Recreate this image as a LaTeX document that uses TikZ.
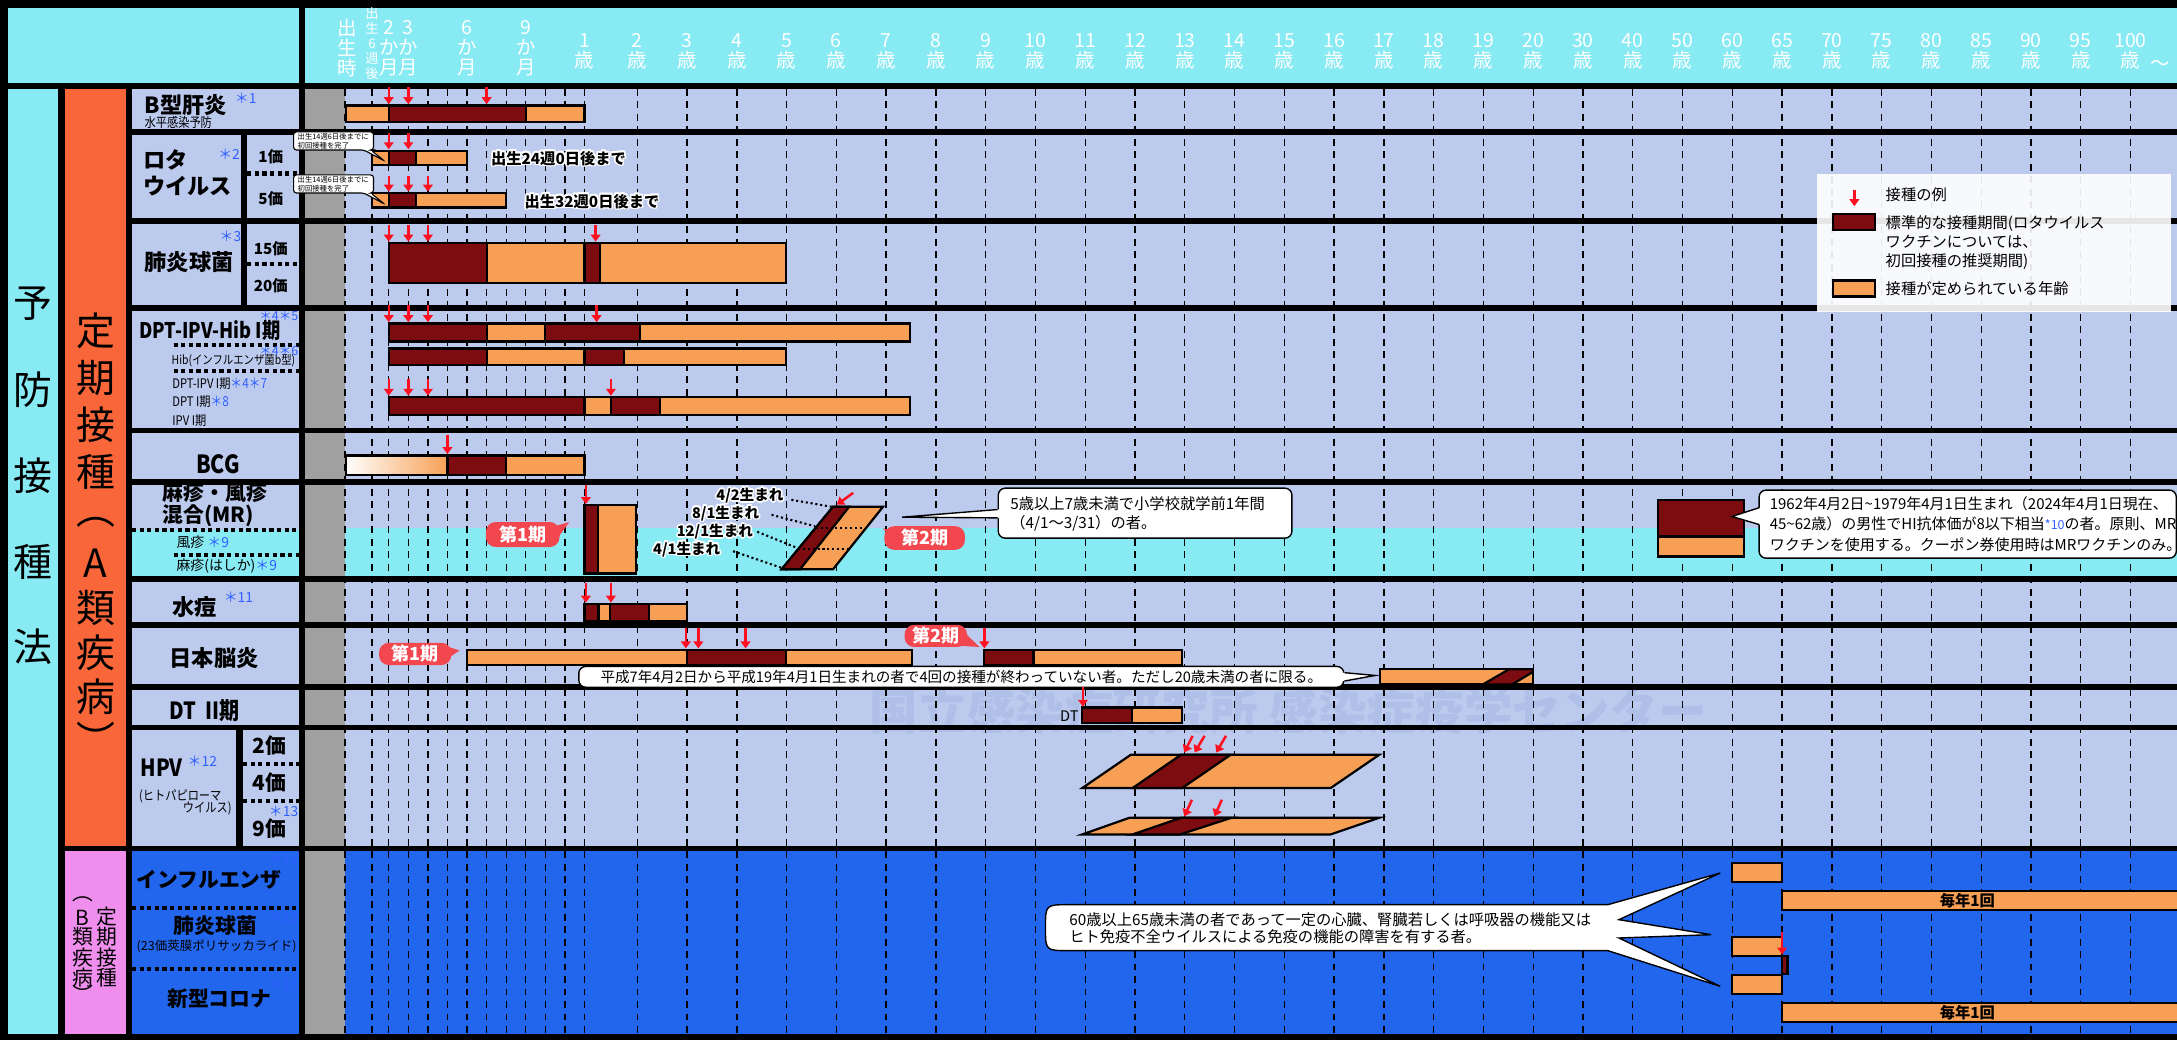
\documentclass[tikz,border=0pt]{standalone}
\usepackage{fontspec}
\setmainfont{Noto Sans CJK JP}
\newfontfamily\schmal{Noto Sans CJK JP}[FakeStretch=0.85]
\usetikzlibrary{arrows.meta,calc,positioning}

\definecolor{hellblau}{HTML}{BCCAEE}
\definecolor{tuerkis}{HTML}{88EAF3}
\definecolor{dunkelrot}{HTML}{7D0C10}
\definecolor{hellorange}{HTML}{F7A055}
\definecolor{grau}{HTML}{A0A0A0}
\definecolor{bblau}{HTML}{2266EE}
\definecolor{rosa}{HTML}{F08EEE}
\definecolor{orangerot}{HTML}{F8663A}
\definecolor{etikettrot}{HTML}{F2474F}
\definecolor{pfeilrot}{HTML}{FF1020}
\definecolor{sternblau}{HTML}{3060FF}
\definecolor{wasserzeichen}{HTML}{AFBFE8}

\tikzset{
  gitter/.style={line width=1pt,dash pattern=on 5pt off 4pt,black},
  punktlinie/.style={line width=3pt,dash pattern=on 3pt off 2.5pt,black},
  balken/.style={draw=black,line width=1.6pt},
  pfeil/.style={pfeilrot,line width=1.8pt,-{Triangle[length=5pt,width=7pt]}},
  kopf/.style={white,align=center,inner sep=0pt,font=\fontsize{14}{14.5}\selectfont},
  vname/.style={inner sep=0pt,font=\bfseries\fontsize{16}{17}\selectfont},
  klein/.style={inner sep=0pt,font=\schmal\fontsize{9.5}{10}\selectfont},
  stern/.style={sternblau,inner sep=0pt,font=\fontsize{10}{10}\selectfont},
  senkrecht/.style={inner sep=0pt,font=\fontsize{28}{28}\selectfont},
  etikett/.style={fill=etikettrot,text=white,rounded corners=7pt,inner sep=0pt,
    font=\bfseries\fontsize{13}{13}\selectfont},
  sprechblase/.style={draw=black,fill=white,line width=1pt,rounded corners=5pt},
  hinweis/.style={inner sep=0pt,align=left,font=\fontsize{11}{13.2}\selectfont},
}

% Text mit weissem Rand
\newcommand\halo[3]{%
  \foreach \dx/\dy in {-1.2/0,1.2/0,0/-1.2,0/1.2,-0.9/-0.9,0.9/-0.9,-0.9/0.9,0.9/0.9}
    {\node[white,#2] at ($(#1)+(\dx,\dy)$) {#3};}
  \node[black,#2] at (#1) {#3};}

\begin{document}
\begin{tikzpicture}[x=1pt,y=-1pt]
\useasboundingbox (0,0) rectangle (1568,749);
%Hintergrund: schwarz, die Felder lassen die Trennlinien frei
\fill[black] (0,0) rectangle (1568,749);
\fill[tuerkis] (6,6) rectangle (215,60);
\fill[tuerkis] (220,6) rectangle (1568,60);
\fill[tuerkis] (6,64) rectangle (42,745);
\fill[orangerot] (47,64) rectangle (91,609);
\fill[rosa] (47,613) rectangle (91,745);
\foreach \oben/\unten in {64/93,97/157,161/220,224/308,312/345,349/415,419/448,452/493,497/522,526/609}{
  \fill[hellblau] (95,\oben) rectangle (215,\unten);
  \fill[grau] (220,\oben) rectangle (248.5,\unten);
  \fill[hellblau] (248.5,\oben) rectangle (1568,\unten);
}
\fill[bblau] (95,613) rectangle (215,745);
\fill[grau] (220,613) rectangle (248.5,745);
\fill[bblau] (248.5,613) rectangle (1568,745);
\fill[tuerkis] (95,381.6) rectangle (215,415);
\fill[tuerkis] (248.5,380) rectangle (1568,415);
\fill[black] (173.5,97) rectangle (178,220);
\fill[black] (170,526) rectangle (175,609);
\node[wasserzeichen,font=\bfseries\fontsize{35}{35}\selectfont] (logo) at (928,512) {国立感染症研究所\ 感染症疫学センター};
\fill[black] (248.5,522) rectangle (1568,526);

%Raster: Monate, dann Jahre
\foreach \x in {248.5,268,280,294.1,308.2,322.3,336.4,350.5,364.6,378.7,392.8,406.9,421}
  \draw[gitter] (\x,64) -- (\x,745);
\foreach \k in {0,...,30}
  \draw[gitter] ({459+35.85*\k},64) -- ++(0,681);
\fill[black] (95,93) rectangle (1568,97);
\fill[black] (95,157) rectangle (1568,161);
\fill[black] (95,220) rectangle (1568,224);
\fill[black] (95,308) rectangle (1568,312);
\fill[black] (95,345) rectangle (1568,349);
\fill[black] (95,415) rectangle (1568,419);
\fill[black] (95,448) rectangle (1568,452);
\fill[black] (95,493) rectangle (1568,497);
\fill[black] (42,609) rectangle (1568,613);

%Kopfzeile
\node[kopf] (geburt) at (250,34.5) {出\\生\\時};
\node[kopf,font=\fontsize{9.5}{10.7}\selectfont] (woche) at (268,31.5) {出\\生\\6\\週\\後};
\foreach \x/\m in {280/2,294.1/3,336.4/6,378.7/9}
  \node[kopf] at (\x,35) {\m\\か\\月};
\node[kopf] (jahr) at (421,37) {1\\歳};
\foreach \t [count=\k from 0] in {2,3,...,20,30,40,50,60,65,70,75,80,85,90,95,100}
  \node[kopf] at ({459+35.85*\k},37) {\t\\歳};
\node[kopf] (tilde) at (1556,47) {〜};

%linke Spalten
\foreach \z/\y in {予/219,防/281,接/343,種/405,法/466}
  \node[senkrecht] at (24,\y) {\z};
\foreach \z/\y in {定/238,期/272,接/306,種/340,︵/376,A/406,類/438,疾/470,病/502,︶/532}
  \node[senkrecht,font=\fontsize{28}{28}\selectfont] at (69,\y) {\z};
\foreach \z/\y in {定/660,期/675,接/690,種/704}
  \node[senkrecht,font=\fontsize{15}{15}\selectfont] at (77,\y) {\z};
\foreach \z/\y in {︵/648,B/661,類/675,疾/690,病/704,︶/716}
  \node[senkrecht,font=\fontsize{15}{15}\selectfont] at (59.5,\y) {\z};

%Impfstoffnamen
\node[vname,anchor=west] (hepb) at (104,76) {B型肝炎};
\node[stern,anchor=west] at (169,71) {＊1};
\node[klein,anchor=west] at (104,88) {水平感染予防};
\node[vname,anchor=west] (rota) at (103,115) {ロタ};
\node[vname,anchor=west] at (103,134) {ウイルス};
\node[stern,anchor=west] at (157,111) {＊2};
\node[vname,font=\bfseries\fontsize{11}{11}\selectfont] at (195,113) {1価};
\node[vname,font=\bfseries\fontsize{11}{11}\selectfont] at (195,143) {5価};
\draw[punktlinie] (178,125) -- (215,125);
\node[vname,anchor=west] (pneumo) at (104,189) {肺炎球菌};
\node[stern,anchor=west] at (158,170) {＊3};
\node[vname,font=\bfseries\fontsize{11}{11}\selectfont] at (195,179) {15価};
\node[vname,font=\bfseries\fontsize{11}{11}\selectfont] at (195,206) {20価};
\draw[punktlinie] (178,190) -- (215,190);
\node[vname,anchor=west,font=\schmal\bfseries\fontsize{15.5}{15.5}\selectfont] (dpt) at (100,238) {DPT-IPV-Hib I期};
\node[stern,anchor=east,font=\fontsize{9}{9}\selectfont] at (215,227.5) {＊4＊5};
\draw[punktlinie] (125,248.5) -- (215,248.5);
\node[klein,anchor=west,font=\schmal\fontsize{8.8}{9}\selectfont] at (123.5,260) {Hib(インフルエンザ菌b型)};
\node[stern,anchor=east,font=\fontsize{9}{9}\selectfont] at (215,253) {＊4＊6};
\draw[punktlinie] (125,267) -- (215,267);
\node[klein,anchor=west] at (124,276) {DPT-IPV I期{\color{sternblau}\fontsize{10}{10}\selectfont＊4＊7}};
\node[klein,anchor=west] at (124,289.5) {DPT I期{\color{sternblau}\fontsize{10}{10}\selectfont＊8}};
\node[klein,anchor=west] at (124,303) {IPV I期};
\node[vname,font=\schmal\bfseries\fontsize{18}{18}\selectfont] (bcg) at (157,334) {BCG};
\node[vname,anchor=west,align=left,font=\bfseries\fontsize{15}{12.5}\selectfont] (mr) at (117,363.5) {麻疹・風疹\\混合(MR)};
\draw[punktlinie] (95,382) -- (215,382);
\node[klein,anchor=west,font=\fontsize{10}{10}\selectfont] at (127,390.5) {風疹 {\color{sternblau}＊9}};
\draw[punktlinie] (125,400) -- (215,400);
\node[klein,anchor=west,font=\fontsize{10}{10}\selectfont] at (127,408) {麻疹(はしか){\color{sternblau}＊9}};
\node[vname,anchor=west] (varizellen) at (124,437) {水痘};
\node[stern,anchor=west] at (161,430) {＊11};
\node[vname,anchor=west] (je) at (122,474) {日本脳炎};
\node[vname,anchor=west,font=\schmal\bfseries\fontsize{17}{17}\selectfont] (dt) at (122,512) {DT\ \ II期};
\node[vname,anchor=west,font=\schmal\bfseries\fontsize{17}{17}\selectfont] (hpv) at (101,553) {HPV};
\node[stern,anchor=west] at (135,548) {＊12};
\node[klein,anchor=west] at (100,573.5) {(ヒトパピローマ};
\node[klein,anchor=east] at (167,582.5) {ウイルス)};
\node[vname,font=\bfseries\fontsize{15}{15}\selectfont] at (194,537) {2価};
\node[vname,font=\bfseries\fontsize{15}{15}\selectfont] at (194,564) {4価};
\node[vname,font=\bfseries\fontsize{15}{15}\selectfont] at (194,597) {9価};
\node[stern,anchor=east] at (215,584) {＊13};
\draw[punktlinie] (175,550) -- (215,550);
\draw[punktlinie] (175,577) -- (215,577);
\node[vname,anchor=west,font=\bfseries\fontsize{15}{15}\selectfont] (grippe) at (98,634) {インフルエンザ};
\node[stern,anchor=east] at (215,619) {＊14};
\draw[punktlinie] (95,654) -- (215,654);
\node[vname,font=\bfseries\fontsize{15}{15}\selectfont] (pneumob) at (155,667) {肺炎球菌};
\node[stern,anchor=east] at (215,661) {＊15};
\node[klein,font=\fontsize{9}{9}\selectfont] at (156,682) {(23価莢膜ポリサッカライド)};
\draw[punktlinie] (95,698) -- (215,698);
\node[vname,font=\bfseries\fontsize{15}{15}\selectfont] (corona) at (158,719) {新型コロナ};
\node[stern,anchor=east] at (215,709) {＊16};

%B型肝炎
\draw[balken,fill=hellorange] (249,76) rectangle (421,88);
\draw[balken,fill=dunkelrot] (280,76) rectangle (378.7,88);
\foreach \x in {280,294.1,350.5} \draw[pfeil] (\x,63) -- (\x,75);
%Rota
\draw[balken,fill=hellorange] (268,108.5) rectangle (336.4,119);
\draw[balken,fill=dunkelrot] (280,108.5) rectangle (299.5,119);
\foreach \x in {280,294.1} \draw[pfeil] (\x,96) -- (\x,107.5);
\draw[balken,fill=hellorange] (268,139) rectangle (364.6,149.5);
\draw[balken,fill=dunkelrot] (280,139) rectangle (299.5,149.5);
\foreach \x in {280,294.1,308.2} \draw[pfeil] (\x,127) -- (\x,138);
\foreach \y in {95,126}{
  \draw[draw=black,fill=white,line width=0.8pt,rounded corners=2pt]
    (211.5,\y) -- (269,\y) -- (269,\y+13) -- (267,\y+13) -- (277,\y+21) -- (262,\y+13) -- (211.5,\y+13) -- cycle;
  \node[inner sep=0pt,align=left,font=\fontsize{5.3}{6.3}\selectfont] at (240,\y+6.5) {出生14週6日後までに\\初回接種を完了};
}
\halo{353.5,114}{anchor=west,inner sep=0pt,font=\bfseries\fontsize{11}{11}\selectfont}{出生24週0日後まで}
\halo{377.6,145}{anchor=west,inner sep=0pt,font=\bfseries\fontsize{11}{11}\selectfont}{出生32週0日後まで}
%Pneumokokken
\draw[balken,fill=hellorange] (280,175) rectangle (566,204);
\draw[balken,fill=dunkelrot] (280,175) rectangle (350.5,204);
\draw[balken,fill=dunkelrot] (421,175) rectangle (432,204);
\foreach \x in {280,294.1,308.2,429} \draw[pfeil] (\x,162) -- (\x,174);
%DPT-IPV-Hib
\draw[balken,fill=hellorange] (280,233) rectangle (655.5,246);
\draw[balken,fill=dunkelrot] (280,233) rectangle (350.5,246);
\draw[balken,fill=dunkelrot] (392.8,233) rectangle (461,246);
\foreach \x in {280,294.1,308.2,429.7} \draw[pfeil] (\x,220) -- (\x,232);
\draw[balken,fill=hellorange] (280,251) rectangle (566,263);
\draw[balken,fill=dunkelrot] (280,251) rectangle (350.5,263);
\draw[balken,fill=dunkelrot] (421,251) rectangle (449.6,263);
\draw[balken,fill=hellorange] (280,286) rectangle (655.5,299);
\draw[balken,fill=dunkelrot] (280,286) rectangle (421,299);
\draw[balken,fill=dunkelrot] (440,286) rectangle (475.6,299);
\foreach \x in {280,294.1,308.2,440} \draw[pfeil] (\x,273) -- (\x,285);
%BCG
\shade[left color=white,right color=hellorange] (249,328) rectangle (322.3,342);
\draw[balken,fill=hellorange] (322.3,328) rectangle (421,342);
\draw[balken] (249,328) rectangle (421,342);
\draw[balken,fill=dunkelrot] (322.3,328) rectangle (364.6,342);
\draw[pfeil] (322.3,313) -- (322.3,327);
%MR
\draw[balken,fill=hellorange] (421,364) rectangle (458,413);
\draw[balken,fill=dunkelrot] (421,364) rectangle (430.7,413);
\draw[pfeil] (422,349) -- (422,363);
\node[etikett,minimum width=53pt,minimum height=18pt] (mrerst) at (376.5,385) {第1期};
\fill[etikettrot] (396,380) -- (410,376) -- (400,390) -- cycle;
\draw[balken,fill=hellorange] (563,410) -- (600,365) -- (636,365) -- (600,410) -- cycle;
\draw[balken,fill=dunkelrot] (563,410) -- (600,365) -- (611.6,365) -- (576.3,410) -- cycle;
\draw[line width=1.5pt,dotted] (587.7,380) -- (624,380);
\draw[line width=1.5pt,dotted] (574.9,395.5) -- (611.6,395.5);
\draw[line width=1.5pt,dotted] (570,360) -- (599,365);
\draw[line width=1.5pt,dotted] (555.7,370.8) -- (587,379);
\draw[line width=1.5pt,dotted] (545.4,383) -- (575,395);
\draw[line width=1.5pt,dotted] (528,397) -- (563,409);
\halo{564.5,357}{anchor=east,inner sep=0pt,font=\bfseries\fontsize{10.5}{10.5}\selectfont}{4/2生まれ}
\halo{547,369.6}{anchor=east,inner sep=0pt,font=\bfseries\fontsize{10.5}{10.5}\selectfont}{8/1生まれ}
\halo{542.5,382.8}{anchor=east,inner sep=0pt,font=\bfseries\fontsize{10.5}{10.5}\selectfont}{12/1生まれ}
\halo{519,395.5}{anchor=east,inner sep=0pt,font=\bfseries\fontsize{10.5}{10.5}\selectfont}{4/1生まれ}
\draw[pfeil] (614.5,355) -- (602.8,363.5);
\node[etikett,minimum width=58pt,minimum height=17pt] (mrzweit) at (666,387.5) {第2期};
\fill[etikettrot] (646,383) -- (635.7,380.5) -- (646,391) -- cycle;
\node[sprechblase,minimum width=211.5pt,minimum height=36pt,inner sep=0pt] (mrbox) at (824.75,369.6) {};
\node[hinweis,anchor=west] at (727.5,370.2) {5歳以上7歳未満で小学校就学前1年間\\（4/1〜3/31）の者。};
\fill[white] ($(mrbox.west)+(1.2,-2.8)$) -- (649.8,372.5) -- ($(mrbox.west)+(1.2,3.6)$) -- cycle;
\draw[line width=1pt] ($(mrbox.west)+(0,-2.6)$) -- (649.8,372.5) -- ($(mrbox.west)+(0,3.4)$);
%MR Erwachsene
\draw[balken,fill=dunkelrot] (1194.4,360) rectangle (1256,386.4);
\draw[balken,fill=hellorange] (1194.4,386.4) rectangle (1256,400.8);
\draw[sprechblase] (1267,353) rectangle (1567.5,402);
\fill[white] (1268.2,365.5) -- (1247.4,372) -- (1268.2,378) -- cycle;
\draw[line width=1pt] (1267,365.7) -- (1247.4,372) -- (1267,377.8);
\node[hinweis,anchor=west,font=\fontsize{10.8}{15}\selectfont] (mrtext) at (1274.5,377.5)
  {1962年4月2日\textasciitilde 1979年4月1日生まれ（2024年4月1日現在、\\45\textasciitilde 62歳）の男性でHI抗体価が8以下相当{\color{sternblau}\fontsize{9}{9}\selectfont*10}の者。原則、MR\\ワクチンを使用する。クーポン券使用時はMRワクチンのみ。};
%Varizellen
\draw[balken,fill=hellorange] (421,435) rectangle (494.7,447);
\draw[balken,fill=dunkelrot] (421,435) rectangle (431,447);
\draw[balken,fill=dunkelrot] (439.6,435) rectangle (467.6,447);
\foreach \x in {422,440} \draw[pfeil] (\x,420) -- (\x,434);
%Japanische Enzephalitis
\draw[balken,fill=hellorange] (336.4,468) rectangle (657,479);
\draw[balken,fill=dunkelrot] (494.7,468) rectangle (566,479);
\foreach \x in {494,503,537} \draw[pfeil] (\x,452) -- (\x,467);
\draw[balken,fill=hellorange] (708.7,468) rectangle (851.4,479);
\draw[balken,fill=dunkelrot] (708.7,468) rectangle (744.3,479);
\draw[pfeil] (709,452) -- (709,467);
\node[etikett,minimum width=52pt,minimum height=16pt] (jeerst) at (299,471) {第1期};
\fill[etikettrot] (320,465) -- (331,468.5) -- (320,476) -- cycle;
\node[etikett,minimum width=45pt,minimum height=16pt] (jezweit) at (674,458) {第2期};
\fill[etikettrot] (692,453) -- (705.5,466) -- (690,465) -- cycle;
\node[sprechblase,minimum width=551pt,minimum height=15pt,inner sep=0pt,font=\fontsize{10.5}{10.5}\selectfont] (jebox) at (692.4,487.5) {平成7年4月2日から平成19年4月1日生まれの者で4回の接種が終わっていない者。ただし20歳未満の者に限る。};
\fill[white] ($(jebox.east)+(-1.2,-3)$) -- (990.5,486.5) -- ($(jebox.east)+(-1.2,3)$) -- cycle;
\draw[line width=1pt] ($(jebox.east)+(0,-3)$) -- (990.5,486.5) -- ($(jebox.east)+(0,3)$);
\draw[balken,fill=hellorange] (994,482) rectangle (1104,493);
\draw[balken,fill=dunkelrot] (1068,493) -- (1087,482) -- (1104,482) -- (1104,484) -- (1089,493) -- cycle;
%DT
\draw[balken,fill=hellorange] (779.5,509.5) rectangle (851.4,521);
\draw[balken,fill=dunkelrot] (779.5,509.5) rectangle (815.5,521);
\draw[pfeil] (780,495) -- (780,509);
\node[inner sep=0pt,anchor=east,font=\fontsize{10.5}{10.5}\selectfont] (dtlabel) at (777,516) {DT};
%HPV
\draw[balken,fill=hellorange] (779.5,567.6) -- (814.5,543.6) -- (993.4,543.6) -- (958.4,567.6) -- cycle;
\draw[balken,fill=dunkelrot] (815.7,567.6) -- (850.7,543.6) -- (886.4,543.6) -- (851.4,567.6) -- cycle;
\foreach \x/\u in {859/853,867.6/860.4,883/876} \draw[pfeil] (\x,530) -- (\u,542);
\draw[balken,fill=hellorange] (779.5,601) -- (813.5,589) -- (993.4,589) -- (958.4,601) -- cycle;
\draw[balken,fill=dunkelrot] (815.7,601) -- (850.7,589) -- (887,589) -- (850,601) -- cycle;
\foreach \x/\u in {858.5/853,880/874.8} \draw[pfeil] (\x,576) -- (\u,588);
%B-Klasse
\draw[balken,fill=hellorange] (1247.7,621.6) rectangle (1283.6,635.5);
\draw[balken,fill=hellorange] (1283.6,642) rectangle (1575,655.7);
\node[inner sep=0pt,font=\bfseries\fontsize{11}{11}\selectfont] (jaehrlich) at (1417,649) {毎年1回};
\draw[balken,fill=hellorange] (1247.7,675) rectangle (1283.6,688.3);
\draw[balken,fill=dunkelrot] (1283.6,688.3) rectangle (1287.5,701.5);
\draw[pfeil] (1283.6,671) -- (1283.6,687.5);
\draw[balken,fill=hellorange] (1247.7,702) rectangle (1283.6,715.7);
\draw[balken,fill=hellorange] (1283.6,722.4) rectangle (1575,736.3);
\node[inner sep=0pt,font=\bfseries\fontsize{11}{11}\selectfont] (jaehrlichb) at (1417,729.4) {毎年1回};
\draw[draw=black,fill=white,line width=1pt] (770,651.6) -- (1158,651.6) -- (1239,628.8) -- (1166,662.4)
  -- (1232.4,673.2) -- (1166,675.6) -- (1239,710.4) -- (1158,684.7) -- (770,684.7)
  .. controls (753,684.7) .. (753,668.15) .. controls (753,651.6) .. (770,651.6) -- cycle;
\node[hinweis,anchor=west,font=\fontsize{11}{12.2}\selectfont] (btext) at (770,668.4)
  {60歳以上65歳未満の者であって一定の心臓、腎臓若しくは呼吸器の機能又は\\ヒト免疫不全ウイルスによる免疫の機能の障害を有する者。};

%Legende
\fill[white,fill opacity=0.9] (1309,125) rectangle (1563.6,224.4);
\draw[pfeil] (1335.6,137) -- (1335.6,148.5);
\node[hinweis,anchor=west] (leg1) at (1358,140.4) {接種の例};
\draw[balken,fill=dunkelrot] (1320,154.3) rectangle (1350.7,165.6);
\node[hinweis,anchor=west,font=\fontsize{11}{13.8}\selectfont] (leg2) at (1358,174.6) {標準的な接種期間(ロタウイルス\\ワクチンについては、\\初回接種の推奨期間)};
\draw[balken,fill=hellorange] (1320,202) rectangle (1350.7,213.6);
\node[hinweis,anchor=west] (leg3) at (1358,207.6) {接種が定められている年齢};
\end{tikzpicture}
\end{document}
